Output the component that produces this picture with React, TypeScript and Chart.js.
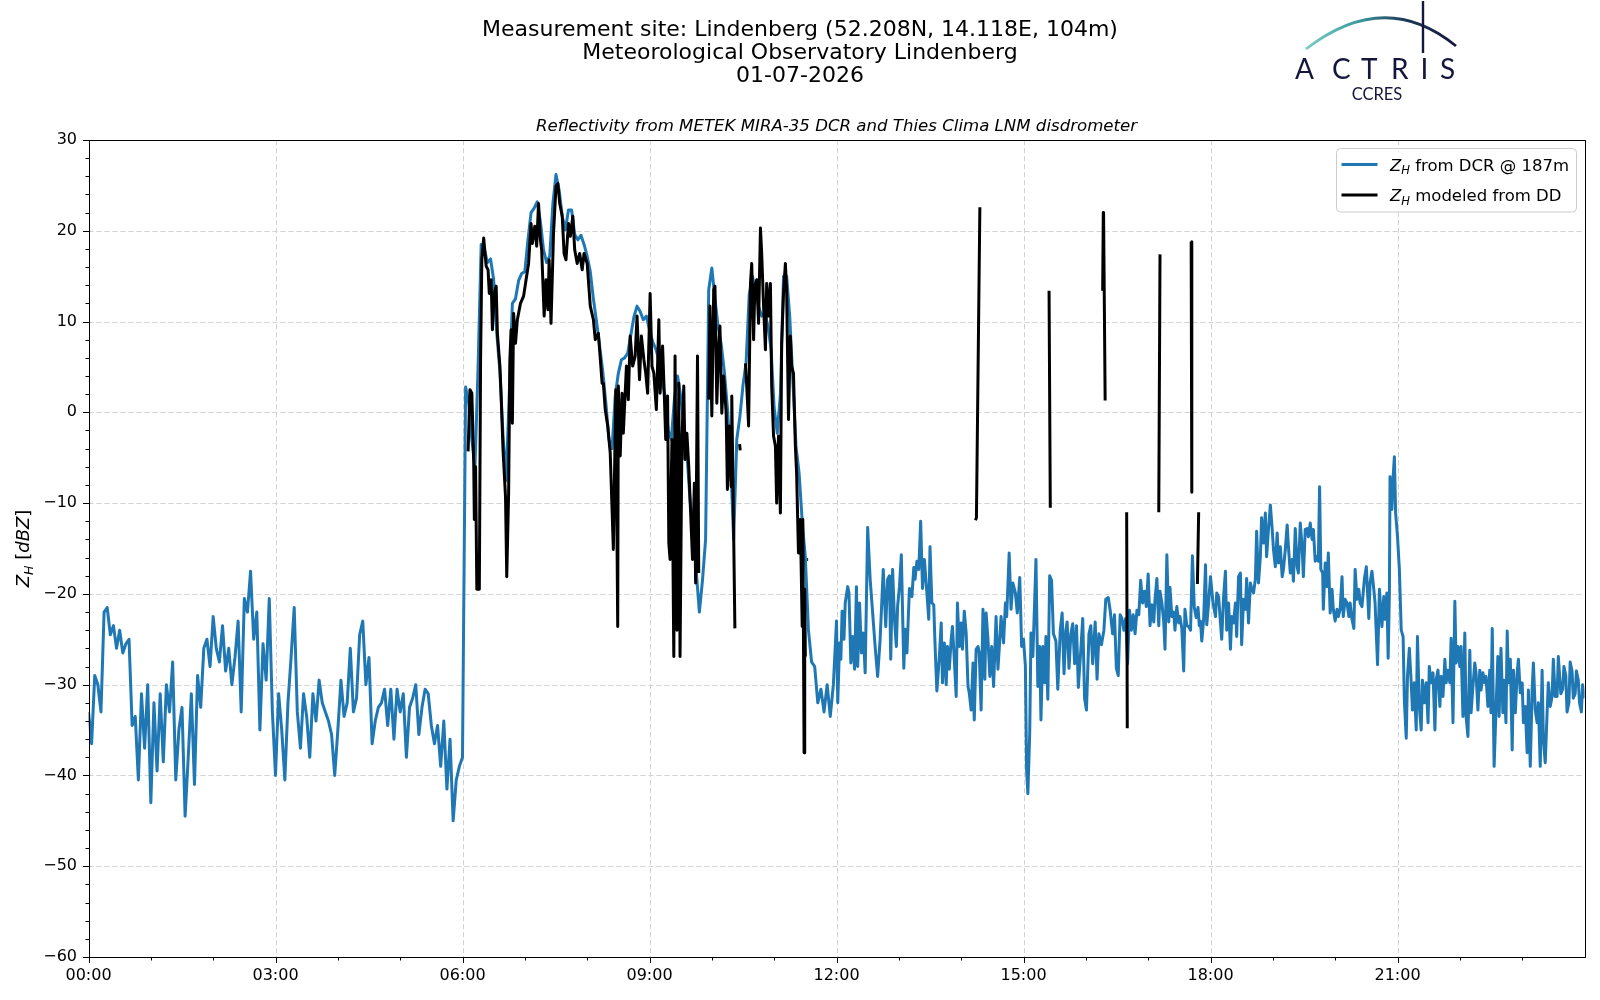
import React, { useEffect, useRef } from 'react';
import { Chart, registerables } from 'chart.js';

Chart.register(...registerables);

// ---------- text ----------
const TITLE_LINES = [
  'Measurement site: Lindenberg (52.208N, 14.118E, 104m)',
  'Meteorological Observatory Lindenberg',
  '01-07-2026',
];
const SUBTITLE = 'Reflectivity from METEK MIRA-35 DCR and Thies Clima LNM disdrometer';
const LEGEND_DCR = ' from DCR @ 187m';
const LEGEND_DD = ' modeled from DD';

// ---------- axes ----------
const X_MAJOR = [0, 3, 6, 9, 12, 15, 18, 21];
const X_MINOR = [1, 2, 4, 5, 7, 8, 10, 11, 13, 14, 16, 17, 19, 20, 22, 23];
const Y_MAJOR = [-60, -50, -40, -30, -20, -10, 0, 10, 20, 30];
const Y_MINOR_STEP = 2;

// ---------- DCR reflectivity @187 m (dBZ) ----------
// 00-12 h: 3-minute samples, one array per 3 h
const STEP_H = 0.05;
const dcr0003 = [
  -33, -36.5, -29, -30, -33, -22, -21.5, -24.5, -23.5, -26,
  -24, -26.5, -25.5, -25, -34.5, -33.5, -40.5, -31, -37, -30,
  -43, -32, -39.5, -31, -38.5, -30, -33, -27.5, -40.5, -35,
  -32.5, -44.5, -38, -31, -41, -29, -32.5, -26, -25, -28,
  -22.5, -26, -27.5, -23.5, -28.5, -26, -30, -27, -23, -33,
  -20.5, -22, -17.5, -25, -22, -35, -25.5, -29.5, -20.5, -33,
];
const dcr0306 = [
  -40, -31, -35, -40.5, -32, -27, -21.5, -33, -37, -31,
  -33.5, -38, -31, -34, -29.5, -32, -33, -34, -35.5, -40,
  -35, -29.5, -33.5, -32, -26, -33, -31.5, -24.5, -23, -30,
  -27, -36.5, -34, -32.5, -32, -30.5, -34.5, -30.5, -36, -30.5,
  -33, -31, -38, -32.5, -31.5, -30, -35.5, -32.5, -30.5, -31,
  -34.5, -36.5, -34.5, -39, -34, -41.5, -36, -45, -40.5, -39,
];
const dcr0609 = [
  -38, 2.8, 1, -3, -6, 5, 18.5, 18, 16.5, 16.9,
  14.6, 8.7, 4.5, -2.5, -7.5, 2, 12, 12.5, 14.5, 15.3,
  15.5, 19, 22, 22.5, 23.2, 21, 17.9, 16.5, 17.2, 23,
  26.2, 24.5, 21.6, 20.1, 22.3, 22.3, 19.6, 19, 19.5, 18.5,
  17.2, 15.5, 12.5, 10, 7.3, 4.5, 1, -3, -4, 1.8,
  4.3, 5.8, 6, 6.5, 8.5, 10.5, 11.7, 11.1, 10.2, 10.6,
];
const dcr0912 = [
  9.1, 7.8, 7, 5.8, 3.5, 1.8, -2, -3, 1.5, 4,
  1.8, -1.2, -4.5, -9.6, -12.5, -17.5, -22, -18.5, -14, 13.5,
  15.9, 12.5, 9.5, 7.5, 4.5, 0.5, -5, -14, -3, -0.5,
  3, 5.5, 13, 15, 13.5, 11.7, 10.6, 11, 9.5, 7,
  0.5, -2.3, 2, 15, 15, 10.5, 3.5, -3.7, -6.7, -12,
  -16, -24, -27.5, -28, -32, -30.5, -33, -30, -33.5, -30,
];
// 12-24 h: [hour, dBZ] samples read at finer spacing
const dcr1215: [number, number][] = [
  [12.0, -23], [12.02, -32], [12.05, -25.4], [12.07, -27.2], [12.09, -21.9], [12.12, -25], [12.14, -21], [12.18, -19.2],
  [12.2, -19.9], [12.23, -27.6], [12.26, -24.7], [12.29, -28.3], [12.32, -19.2], [12.34, -28], [12.37, -21], [12.4, -26.5],
  [12.43, -24.3], [12.46, -28.7], [12.5, -12.7], [12.54, -18.4], [12.58, -22.1], [12.62, -25.8], [12.66, -29.1], [12.7, -25],
  [12.75, -17.3], [12.79, -23.6], [12.82, -18.4], [12.85, -18], [12.87, -27.2], [12.9, -17.3], [12.93, -22.8], [12.96, -25.8],
  [12.98, -21.4], [13.01, -19.2], [13.04, -15.7], [13.08, -28.2], [13.1, -23.9], [13.13, -26.5], [13.17, -19.4], [13.21, -20.3],
  [13.24, -17.1], [13.26, -18.4], [13.29, -16.4], [13.32, -17.3], [13.35, -12], [13.38, -19.4], [13.41, -16.2], [13.45, -19.9],
  [13.48, -22.8], [13.5, -14.8], [13.53, -21], [13.56, -21.2], [13.58, -25.4], [13.61, -30.7], [13.65, -26.9], [13.68, -23.2],
  [13.7, -29.8], [13.73, -25.4], [13.76, -30], [13.78, -25.8], [13.81, -28.3], [13.84, -25], [13.86, -23.6], [13.89, -27.2],
  [13.92, -31.3], [13.94, -21], [13.97, -25.8], [14.0, -23.2], [14.02, -26.1], [14.05, -21.9], [14.08, -24.3], [14.11, -30.2],
  [14.13, -30.9], [14.16, -32.8], [14.19, -27.6], [14.21, -33.9], [14.24, -26.1], [14.27, -25.8], [14.29, -26.5], [14.32, -32.8],
  [14.35, -21.7], [14.38, -29.4], [14.4, -22.1], [14.43, -25], [14.46, -29.1], [14.49, -25.8], [14.52, -30.2], [14.56, -22.5],
  [14.59, -28.3], [14.62, -25], [14.64, -22.5], [14.68, -25.4], [14.71, -21], [14.73, -22.5], [14.77, -15.5], [14.8, -21.7],
  [14.83, -18.8], [14.87, -19.9], [14.9, -22.1], [14.94, -18.2], [14.97, -25.8],
];
const dcr1518: [number, number][] = [
  [15.0, -25], [15.03, -27.9], [15.05, -39.4], [15.07, -42], [15.1, -35.3], [15.12, -24.3], [15.15, -26.9], [15.18, -20.6],
  [15.2, -16.2], [15.23, -30.2], [15.26, -25.8], [15.28, -33.9], [15.31, -25.8], [15.34, -29.8], [15.36, -24.7], [15.39, -31.6],
  [15.42, -18], [15.45, -18.5], [15.48, -24.4], [15.52, -25.2], [15.55, -30.5], [15.59, -24], [15.62, -22.1], [15.65, -28.8],
  [15.68, -24], [15.7, -23.1], [15.73, -28.2], [15.76, -24.4], [15.79, -23.3], [15.82, -27.7], [15.85, -23.5], [15.88, -30.3],
  [15.92, -26.1], [15.95, -22.7], [15.98, -31.5], [16.01, -32.8], [16.05, -24.4], [16.08, -23.5], [16.11, -27.7], [16.15, -23.1],
  [16.18, -29.4], [16.21, -24.4], [16.25, -25.6], [16.29, -24], [16.32, -20.6], [16.36, -20.4], [16.39, -21.8], [16.43, -24.4],
  [16.46, -22.3], [16.49, -28.2], [16.52, -29], [16.55, -22.3], [16.58, -22.7], [16.61, -24], [16.64, -22.7], [16.67, -27.7],
  [16.7, -21.8], [16.73, -24], [16.76, -22.3], [16.79, -24.4], [16.82, -21.8], [16.85, -22.3], [16.88, -18.5], [16.91, -21],
  [16.94, -19.7], [16.97, -21.4], [17.0, -17.8], [17.03, -23.5], [17.06, -21.2], [17.09, -23.1], [17.11, -20.6], [17.14, -18.3],
  [17.17, -23.5], [17.19, -19.7], [17.22, -21], [17.25, -23.1], [17.27, -26.1], [17.3, -15.7], [17.33, -23.1], [17.35, -19.3],
  [17.38, -22.5], [17.41, -22], [17.43, -24], [17.46, -21.4], [17.49, -23.2], [17.51, -22.5], [17.54, -23.8], [17.57, -28.5],
  [17.59, -21.7], [17.62, -23.5], [17.65, -23.6], [17.68, -24], [17.71, -15.8], [17.74, -21.5], [17.77, -22.6], [17.8, -21.5],
  [17.82, -23.5], [17.84, -23], [17.86, -25.2], [17.89, -22.8], [17.92, -16.8], [17.94, -23.4], [17.97, -21],
];
const dcr1821: [number, number][] = [
  [18.0, -18.1], [18.04, -21], [18.08, -22.5], [18.1, -19.9], [18.13, -20.3], [18.16, -23.2], [18.18, -25], [18.21, -20.3],
  [18.24, -17.5], [18.26, -24], [18.29, -21], [18.32, -26.1], [18.34, -22.5], [18.37, -23.2], [18.4, -21], [18.42, -24.7],
  [18.45, -18.1], [18.48, -17.7], [18.5, -25.6], [18.53, -20.6], [18.56, -21.7], [18.58, -18.3], [18.61, -23.2], [18.64, -18.8],
  [18.66, -19.4], [18.69, -19.9], [18.72, -18.4], [18.74, -13.1], [18.77, -18.8], [18.8, -15.9], [18.82, -11.6], [18.85, -14.4],
  [18.88, -11.1], [18.9, -15.9], [18.93, -12.9], [18.96, -10.2], [18.99, -12.9], [19.01, -15.1], [19.04, -17], [19.07, -13.3],
  [19.09, -16.6], [19.12, -14.8], [19.15, -18.1], [19.17, -17.3], [19.2, -15.1], [19.23, -12.4], [19.25, -14.8], [19.28, -17.7],
  [19.31, -16.2], [19.33, -18.6], [19.36, -12.8], [19.39, -17], [19.41, -17.7], [19.44, -12.2], [19.47, -14.8], [19.49, -18.1],
  [19.52, -12.9], [19.55, -12.8], [19.57, -13.7], [19.6, -12.2], [19.63, -14], [19.65, -12.9], [19.68, -16.4], [19.71, -15.9],
  [19.73, -16.4], [19.75, -8.2], [19.77, -17.3], [19.8, -17.7], [19.81, -21.7], [19.84, -16.6], [19.87, -19.2], [19.89, -15.5],
  [19.92, -22.1], [19.95, -19.5], [19.97, -21.7], [20.0, -23], [20.03, -21.7], [20.05, -22.5], [20.08, -21.7], [20.11, -18.1],
  [20.13, -22.5], [20.16, -20.6], [20.19, -21], [20.22, -22.5], [20.24, -21], [20.27, -22.8], [20.3, -23.8], [20.32, -17.3],
  [20.35, -20.6], [20.38, -19.5], [20.4, -21], [20.43, -21.4], [20.47, -18.3], [20.5, -17], [20.54, -22.7], [20.56, -18.8],
  [20.59, -17.5], [20.62, -19.5], [20.64, -21], [20.68, -27.8], [20.71, -19.5], [20.75, -23.6], [20.78, -20.3], [20.8, -22.8],
  [20.83, -19.9], [20.85, -27.1], [20.87, -19.9], [20.88, -7.1], [20.91, -10.7], [20.93, -7.1], [20.95, -4.9], [20.97, -11.1],
];
const dcr2124: [number, number][] = [
  [21.0, -13.7], [21.03, -17.3], [21.06, -24], [21.09, -24.7], [21.11, -31.7], [21.14, -35.9], [21.16, -29.1], [21.19, -26],
  [21.22, -29.8], [21.24, -32.8], [21.27, -29.8], [21.3, -35], [21.32, -24.7], [21.35, -32.4], [21.38, -35], [21.4, -29.5],
  [21.43, -32], [21.46, -29.8], [21.49, -34.2], [21.51, -28], [21.54, -29.8], [21.57, -28.7], [21.6, -35], [21.62, -29.5],
  [21.65, -28.4], [21.68, -32.4], [21.7, -29.1], [21.73, -31.3], [21.76, -27.2], [21.78, -29.8], [21.81, -28.4], [21.84, -29.8],
  [21.86, -24.9], [21.89, -34.2], [21.92, -20.8], [21.94, -27.6], [21.97, -25.8], [22.0, -28], [22.02, -25.8], [22.05, -33.5],
  [22.08, -24.3], [22.1, -33.5], [22.13, -35.7], [22.16, -26.2], [22.18, -33.1], [22.21, -30.2], [22.24, -27.6], [22.26, -28.7],
  [22.29, -32.8], [22.32, -28.4], [22.34, -30.6], [22.37, -28.7], [22.4, -29.8], [22.42, -29.1], [22.45, -32.4], [22.48, -28.4],
  [22.5, -33.1], [22.52, -23.8], [22.55, -39], [22.58, -32.8], [22.61, -26.9], [22.63, -33.5], [22.66, -26], [22.69, -33.1],
  [22.71, -29.5], [22.74, -34.2], [22.76, -24.1], [22.78, -29.8], [22.81, -27.2], [22.84, -37.2], [22.86, -28.4], [22.89, -33.1],
  [22.92, -28.7], [22.94, -27.2], [22.97, -30.9], [23.0, -29.8], [23.02, -34.2], [23.05, -32.4], [23.08, -37.5], [23.1, -30.6],
  [23.13, -39], [23.16, -30.6], [23.18, -27.6], [23.21, -32.8], [23.24, -34.2], [23.26, -32], [23.29, -39], [23.32, -28.4],
  [23.34, -36], [23.37, -38.6], [23.4, -33.1], [23.42, -29.8], [23.45, -32.4], [23.48, -31.3], [23.5, -27.2], [23.53, -31.3],
  [23.56, -31.3], [23.58, -26.9], [23.62, -31], [23.65, -30.5], [23.67, -28], [23.7, -29], [23.72, -33], [23.75, -32],
  [23.77, -27.5], [23.8, -28.5], [23.82, -31.5], [23.85, -31], [23.87, -28.5], [23.9, -29.5], [23.92, -32], [23.95, -33],
  [23.97, -30], [24.0, -31.5],
];

// ---------- disdrometer-modeled reflectivity (time in hours, dBZ; null = gap) ----------
const ddTime = [
  6.09, 6.12, 6.15, 6.18, 6.19, 6.21, 6.23, 6.27, 6.29, 6.31, 6.34, 6.38, 6.41, 6.43, 6.46, 6.48, 6.51, 6.54, 6.56, 6.6,
  6.62, 6.65, 6.69, 6.71, 6.74, 6.76, 6.78, 6.8, 6.82, 6.85, 6.88, 6.93, 6.98, 7.02, 7.06, 7.1, 7.12, 7.16, 7.19, 7.22,
  7.25, 7.27, 7.31, 7.34, 7.37, 7.39, 7.42, 7.46, 7.5, 7.53, 7.56, 7.6, 7.63, 7.66, 7.7, 7.73, 7.77, 7.8, 7.84, 7.88,
  7.92, 7.95, 8.0, 8.05, 8.1, 8.13, 8.18, 8.24, 8.26, 8.29, 8.33, 8.37, 8.42, 8.46, 8.49, 8.5, 8.53, 8.56, 8.58, 8.63,
  8.66, 8.69, 8.73, 8.77, 8.8, 8.84, 8.87, 8.91, 8.94, 8.97, 9.01, 9.04, 9.07, 9.11, 9.15, 9.17, 9.21, 9.24, 9.26, 9.29,
  9.31, 9.33, 9.36, 9.39, 9.41, 9.44, 9.47, 9.49, 9.52, 9.55, 9.57, 9.6, 9.63, 9.66, 9.69, 9.72, 9.74, 9.77, 9.79, 9.87,
  9.95, 9.97, 10.0, 10.03, 10.05, 10.08, 10.11, 10.13, 10.16, 10.19, 10.23, 10.25, 10.28, 10.31, 10.32, 10.35, 10.37, 10.41,
  10.445, 10.455, 10.5,
  10.54, 10.56, 10.59, 10.62, 10.64, 10.67, 10.69, 10.72, 10.75, 10.78, 10.8, 10.83, 10.86, 10.88, 10.91, 10.94, 10.96, 10.99,
  11.02, 11.04, 11.07, 11.1, 11.12, 11.15, 11.18, 11.2, 11.23, 11.26, 11.28, 11.31, 11.34, 11.36, 11.39, 11.42, 11.45, 11.46,
  11.48, 11.49, 11.5, 11.52, 11.53, 11.545, 11.6,
  14.23, 14.245, 14.3, 14.4,
  15.41, 15.43, 15.5,
  16.27, 16.28, 16.285, 16.31, 16.4,
  16.655, 16.665, 16.8,
  17.17, 17.19, 17.3,
  17.69, 17.7, 17.75,
  17.79, 17.81,
];
const ddZ = [
  -4.3, 2.5, 2.1, -5.6, -11.8, -6, -19.5, -19.5, 5.8, 16.8, 19.2, 16.1, 15.7, 13.1, 14.6, 9.1, 13.1, 13.9, 8.7, 5.1,
  1.8, -4.1, -9.3, -18.1, -8.9, 5.8, 9.1, -1.2, 10.9, 7.6, 10.2, 12, 12.8, 14.6, 16.4, 20.8, 18.6, 20.5, 18.3, 23,
  19, 17.9, 10.6, 14.6, 11.3, 16.8, 9.8, 19.7, 24.9, 25.2, 23, 21.6, 17.5, 16.8, 20.8, 19.4, 21.6, 17.9, 16.4, 17.5,
  15.7, 17.5, 16.4, 11.7, 10.2, 8, 8.7, 3.2, 3.2, 0.3, -1.5, -4.5, -15.1, 2.5, -23.6, 2.9, -4.8, 2.1, -2.3, 5.1,
  1.4, 8.4, 5.1, 6.2, 10.6, 3.6, 8.4, 5.8, 4.3, 2.1, 13.1, 5.1, 4.3, 0.3, 10.2, 2.1, 7.3, 1.4, -3, 1.8,
  -14.4, -16.2, -3, -26.9, 6.2, -24, 3.2, -26.9, -3, 2.9, -5.2, -2.3, -6, -11.1, -16.2, -7.8, -18.8, 6.2, -17.7, null,
  1.4, 11.7, -0.4, 13.5, 13.9, 1.0, 7.3, 9.5, -0.1, 4, -0.1, -8.5, -1.5, -8.2, 1.8, -13.3, -23.8, null,
  -3.5, -4.2, null,
  5.4, 2.9, -1.5, 14.2, 16.4, 8, 13.9, 14.6, 9.8, 20.3, 17.5, 11.7, 6.9, 14.2, 10.6, 14.2, 2.9, -2.6,
  -3.7, -10, -2.6, -11.1, 7.6, 13.1, 16.4, 13.5, -0.8, 8.4, 5.1, 4.3, -3.7, -6.7, -15.5, -11.8, -23.6, -11.8,
  -37.5, -19.5, -26.9, null, -16.2, -16.2, null,
  -11.9, -11.6, 22.6, null,
  13.4, -10.5, null,
  13.4, 22, 21.5, 1.3, null,
  -11, -34.8, null,
  -11, 17.4, null,
  18.8, -8.8, null,
  -18.9, -11,
];

const DCR_COLOR = '#1f77b4';
const DD_COLOR = '#000000';
const FONT = '"DejaVu Sans", sans-serif';
const LINE_W = 3;

const dcrGridBlocks = [dcr0003, dcr0306, dcr0609, dcr0912];
const dcrPairBlocks = [dcr1215, dcr1518, dcr1821, dcr2124];
const dcrPoints = [
  ...dcrGridBlocks.flatMap((blk, b) => blk.map((v, k) => ({ x: b * 3 + k * STEP_H, y: v }))),
  ...dcrPairBlocks.flatMap((blk) => blk.map(([t, v]) => ({ x: t, y: v }))),
];
const ddPoints = ddTime.map((t, i) => ({ x: t, y: ddZ[i] }));

type Part = { t: string; it?: boolean; sub?: boolean };

function richWidth(ctx: CanvasRenderingContext2D, parts: Part[], size: number) {
  let w = 0;
  for (const p of parts) {
    const s = p.sub ? size * 0.7 : size;
    ctx.font = `${p.it ? 'italic ' : ''}${s}px ${FONT}`;
    w += ctx.measureText(p.t).width;
  }
  return w;
}
function drawRich(ctx: CanvasRenderingContext2D, parts: Part[], x: number, y: number, size: number) {
  let cx = x;
  ctx.textBaseline = 'alphabetic';
  ctx.textAlign = 'left';
  for (const p of parts) {
    const s = p.sub ? size * 0.7 : size;
    ctx.font = `${p.it ? 'italic ' : ''}${s}px ${FONT}`;
    ctx.fillText(p.t, cx, y + (p.sub ? size * 0.22 : 0));
    cx += ctx.measureText(p.t).width;
  }
}

const framePlugin = {
  id: 'frame',
  beforeDatasetsDraw(chart: any) {
    const { ctx, chartArea: a, scales } = chart;
    const xs = scales.x;
    const ys = scales.y;
    ctx.save();
    ctx.strokeStyle = '#d2d2d2';
    ctx.lineWidth = 1;
    ctx.setLineDash([5, 3]);
    for (const h of X_MAJOR) {
      if (h <= 0) continue;
      const px = Math.round(xs.getPixelForValue(h)) + 0.5;
      ctx.beginPath();
      ctx.moveTo(px, a.top);
      ctx.lineTo(px, a.bottom);
      ctx.stroke();
    }
    for (const v of Y_MAJOR) {
      if (v <= -60 || v >= 30) continue;
      const py = Math.round(ys.getPixelForValue(v)) + 0.5;
      ctx.beginPath();
      ctx.moveTo(a.left, py);
      ctx.lineTo(a.right, py);
      ctx.stroke();
    }
    ctx.restore();
  },
  afterDatasetsDraw(chart: any) {
    const { ctx, chartArea: a, scales } = chart;
    const xs = scales.x;
    const ys = scales.y;
    ctx.save();
    // spines
    ctx.strokeStyle = '#000';
    ctx.lineWidth = 1;
    ctx.setLineDash([]);
    ctx.strokeRect(Math.round(a.left) + 0.5, Math.round(a.top) + 0.5, Math.round(a.right - a.left), Math.round(a.bottom - a.top));
    // ticks
    const tickX = (h: number, len: number) => {
      const px = Math.round(xs.getPixelForValue(h)) + 0.5;
      ctx.beginPath();
      ctx.moveTo(px, Math.round(a.bottom));
      ctx.lineTo(px, Math.round(a.bottom) + len);
      ctx.stroke();
    };
    const tickY = (v: number, len: number) => {
      const py = Math.round(ys.getPixelForValue(v)) + 0.5;
      ctx.beginPath();
      ctx.moveTo(Math.round(a.left), py);
      ctx.lineTo(Math.round(a.left) - len, py);
      ctx.stroke();
    };
    X_MAJOR.forEach((h) => tickX(h, 6));
    X_MINOR.forEach((h) => tickX(h, 3.5));
    Y_MAJOR.forEach((v) => tickY(v, 6));
    for (let v = -60; v <= 30; v += Y_MINOR_STEP) {
      if (v % 10 !== 0) tickY(v, 3.5);
    }
    // y-axis title
    ctx.fillStyle = '#000';
    const yParts: Part[] = [
      { t: 'Z', it: true },
      { t: 'H', it: true, sub: true },
      { t: ' [' },
      { t: 'dBZ', it: true },
      { t: ']' },
    ];
    const ySize = 18;
    const yw = richWidth(ctx, yParts, ySize);
    ctx.save();
    ctx.translate(29, (a.top + a.bottom) / 2);
    ctx.rotate(-Math.PI / 2);
    drawRich(ctx, yParts, -yw / 2, 0, ySize);
    ctx.restore();
    // legend
    const L = { x0: 1336.5, y0: 148.5, x1: 1576.5, y1: 212, r: 4 };
    ctx.beginPath();
    ctx.moveTo(L.x0 + L.r, L.y0);
    ctx.lineTo(L.x1 - L.r, L.y0);
    ctx.arcTo(L.x1, L.y0, L.x1, L.y0 + L.r, L.r);
    ctx.lineTo(L.x1, L.y1 - L.r);
    ctx.arcTo(L.x1, L.y1, L.x1 - L.r, L.y1, L.r);
    ctx.lineTo(L.x0 + L.r, L.y1);
    ctx.arcTo(L.x0, L.y1, L.x0, L.y1 - L.r, L.r);
    ctx.lineTo(L.x0, L.y0 + L.r);
    ctx.arcTo(L.x0, L.y0, L.x0 + L.r, L.y0, L.r);
    ctx.closePath();
    ctx.fillStyle = 'rgba(255,255,255,0.85)';
    ctx.fill();
    ctx.strokeStyle = '#cccccc';
    ctx.lineWidth = 1;
    ctx.stroke();
    const ds = chart.data.datasets;
    const rows = [
      { color: ds[1].borderColor, y: 164.5, label: LEGEND_DCR },
      { color: ds[0].borderColor, y: 195, label: LEGEND_DD },
    ];
    for (const r of rows) {
      ctx.strokeStyle = r.color;
      ctx.lineWidth = LINE_W;
      ctx.beginPath();
      ctx.moveTo(1341.5, r.y);
      ctx.lineTo(1377.5, r.y);
      ctx.stroke();
      ctx.fillStyle = '#000';
      drawRich(ctx, [{ t: 'Z', it: true }, { t: 'H', it: true, sub: true }, { t: r.label }], 1390, r.y + 6.2, 16.5);
    }
    ctx.restore();
  },
};

export default function App() {
  const ref = useRef<HTMLCanvasElement>(null);
  useEffect(() => {
    if (!ref.current) return;
    const chart = new Chart(ref.current, {
      type: 'line',
      data: {
        datasets: [
          {
            label: 'ZH modeled from DD',
            data: ddPoints as any,
            borderColor: DD_COLOR,
            borderWidth: LINE_W,
            pointRadius: 0,
            tension: 0,
            spanGaps: false,
            fill: false,
            borderJoinStyle: 'round',
            order: 1,
          },
          {
            label: 'ZH from DCR @ 187m',
            data: dcrPoints as any,
            borderColor: DCR_COLOR,
            borderWidth: LINE_W,
            pointRadius: 0,
            tension: 0,
            spanGaps: false,
            fill: false,
            borderJoinStyle: 'round',
            order: 2,
          },
        ],
      },
      options: {
        responsive: false,
        animation: false,
        events: [],
        layout: { padding: { left: 0, top: 140, right: 15.5, bottom: 0 } },
        plugins: { legend: { display: false }, tooltip: { enabled: false }, title: { display: false } },
        scales: {
          x: {
            type: 'linear',
            min: 0,
            max: 24,
            afterFit: (s: any) => {
              s.height = 43;
            },
            grid: { display: false, drawTicks: false, tickLength: 0 },
            border: { display: false },
            ticks: {
              stepSize: 3,
              autoSkip: false,
              maxRotation: 0,
              padding: 9,
              color: '#000',
              font: { family: 'DejaVu Sans', size: 16 },
              callback: (v: any) => (Number(v) >= 24 ? '' : `${String(v).padStart(2, '0')}:00`),
            },
          },
          y: {
            type: 'linear',
            min: -60,
            max: 30,
            afterFit: (s: any) => {
              s.width = 88.5;
            },
            grid: { display: false, drawTicks: false, tickLength: 0 },
            border: { display: false },
            ticks: {
              stepSize: 10,
              padding: 11.5,
              color: '#000',
              font: { family: 'DejaVu Sans', size: 16 },
              callback: (v: any) => (Number(v) < 0 ? `\u2212${Math.abs(Number(v))}` : `${v}`),
            },
          },
        },
      } as any,
      plugins: [framePlugin],
    });
    return () => chart.destroy();
  }, []);

  return (
    <div style={{ position: 'absolute', left: 0, top: 0, width: 1600, height: 1000, background: '#fff', overflow: 'hidden' }}>
      <canvas ref={ref} width={1600} height={1000} style={{ position: 'absolute', left: 0, top: 0, width: 1600, height: 1000 }} />
      <div
        style={{
          position: 'absolute',
          left: 0,
          top: 17,
          width: 1600,
          textAlign: 'center',
          fontFamily: FONT,
          fontSize: 22,
          lineHeight: '23px',
          color: '#000',
        }}
      >
        {TITLE_LINES.map((t) => (
          <div key={t}>{t}</div>
        ))}
      </div>
      <div
        style={{
          position: 'absolute',
          left: 0,
          top: 115.5,
          width: 1673,
          textAlign: 'center',
          fontFamily: FONT,
          fontStyle: 'italic',
          fontSize: 16.6,
          lineHeight: '20px',
          color: '#000',
        }}
      >
        {SUBTITLE}
      </div>
      <svg width={1600} height={110} style={{ position: 'absolute', left: 0, top: 0 }}>
        <defs>
          <linearGradient id="arcGrad" gradientUnits="userSpaceOnUse" x1={1306} y1={0} x2={1456} y2={0}>
            <stop offset="0" stopColor="#7ccbc6" />
            <stop offset="0.35" stopColor="#3a9aa0" />
            <stop offset="0.65" stopColor="#1e3a5a" />
            <stop offset="1" stopColor="#15163d" />
          </linearGradient>
        </defs>
        <path d="M1306 49 Q1385 -12 1456 46" fill="none" stroke="url(#arcGrad)" strokeWidth={2.8} />
        <line x1={1423} y1={1} x2={1423} y2={53} stroke="#15163d" strokeWidth={2.4} />
        <g fill="#15163d" fontFamily="Lato, 'Open Sans', sans-serif" fontSize={28}>
          <text x={1295} y={78.5}>A</text>
          <text x={1332} y={78.5}>C</text>
          <text x={1361} y={78.5}>T</text>
          <text x={1391} y={78.5}>R</text>
          <text x={1420.5} y={78.5}>I</text>
          <text x={1440} y={78.5}>S</text>
        </g>
        <text x={1377} y={99.5} textAnchor="middle" fill="#15163d" fontFamily="Lato, 'Open Sans', sans-serif" fontSize={16.5}>
          CCRES
        </text>
      </svg>
    </div>
  );
}
